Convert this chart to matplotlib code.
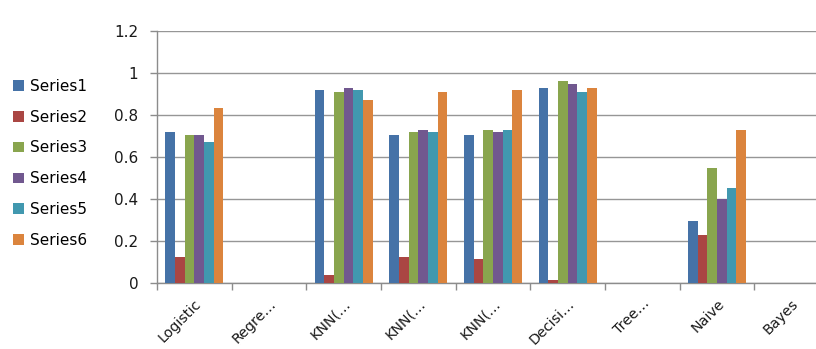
import numpy as np
import matplotlib
matplotlib.use("Agg")
import matplotlib.pyplot as plt
from matplotlib.patches import Patch
from matplotlib.transforms import ScaledTranslation

plt.rcParams['font.family'] = ['DejaVu Sans']

categories = ['Logistic', 'Regre…', 'KNN(…', 'KNN(…', 'KNN(…',
              'Decisi…', 'Tree…', 'Naive', 'Bayes']
series_names = ['Series1', 'Series2', 'Series3', 'Series4', 'Series5', 'Series6']

# one list per series, NaN where a category has no value
series1 = [0.716, np.nan, 0.916, 0.705, 0.705, 0.927, np.nan, 0.292, np.nan]
series2 = [0.124, np.nan, 0.035, 0.124, 0.113, 0.014, np.nan, 0.227, np.nan]
series3 = [0.705, np.nan, 0.907, 0.716, 0.726, 0.959, np.nan, 0.546, np.nan]
series4 = [0.705, np.nan, 0.927, 0.726, 0.716, 0.948, np.nan, 0.398, np.nan]
series5 = [0.670, np.nan, 0.916, 0.716, 0.726, 0.907, np.nan, 0.449, np.nan]
series6 = [0.830, np.nan, 0.870, 0.907, 0.918, 0.927, np.nan, 0.726, np.nan]
all_series = [series1, series2, series3, series4, series5, series6]

colors = ['#4572A7', '#AA4643', '#89A54E', '#71588F', '#4198AF', '#DB843D']

W, H = 816, 349
fig = plt.figure(figsize=(W / 100, H / 100), dpi=100)
# plot area runs a little past the right edge (last category is cut off)
ax = fig.add_axes([157 / W, (H - 282.7) / H, 672 / W, 252 / H])

x = np.arange(len(categories))
group = 0.78
bw = group / len(all_series)
for i, vals in enumerate(all_series):
    off = -group / 2 + bw * (i + 0.5)
    ax.bar(x + off, vals, width=bw, color=colors[i], edgecolor='none', zorder=3)

ax.set_xlim(-0.5, len(categories) - 0.5)
ax.set_ylim(0, 1.2)
ax.set_yticks(np.arange(0, 1.21, 0.2))
ax.set_yticklabels(['0', '0.2', '0.4', '0.6', '0.8', '1', '1.2'])
ax.grid(axis='y', color='#969696', linewidth=1.0, zorder=0)

# ticks between categories, labels at category centres
ax.set_xticks(np.arange(-0.5, len(categories), 1.0))
ax.set_xticklabels([])
ax.set_xticks(x, minor=True)
ax.set_xticklabels(categories, minor=True, rotation=45, ha='right',
                   va='top', rotation_mode='anchor', fontsize=10.3, color='#1a1a1a')
shift = ScaledTranslation(1 / 72, 0, fig.dpi_scale_trans)
for lab in ax.get_xticklabels(minor=True):
    lab.set_transform(lab.get_transform() + shift)
ax.tick_params(axis='x', which='minor', length=0, pad=10)
ax.tick_params(axis='x', which='major', length=5, color='#8C8C8C', width=1)
ax.tick_params(axis='y', length=5, color='#8C8C8C', width=1, labelsize=11,
               labelcolor='#1a1a1a', pad=8.5)

for s in ['top', 'right']:
    ax.spines[s].set_visible(False)
for s in ['left', 'bottom']:
    ax.spines[s].set_color('#8C8C8C')
    ax.spines[s].set_linewidth(1)

handles = [Patch(facecolor=c, edgecolor='none') for c in colors]
fig.legend(handles, series_names, loc='upper left', bbox_to_anchor=(13 / W, 1 - 79 / H),
           frameon=False, fontsize=11, handlelength=0.7, handleheight=0.7,
           labelspacing=1.03, handletextpad=0.4, borderaxespad=0, borderpad=0)

fig.savefig('out.png', dpi=100)
